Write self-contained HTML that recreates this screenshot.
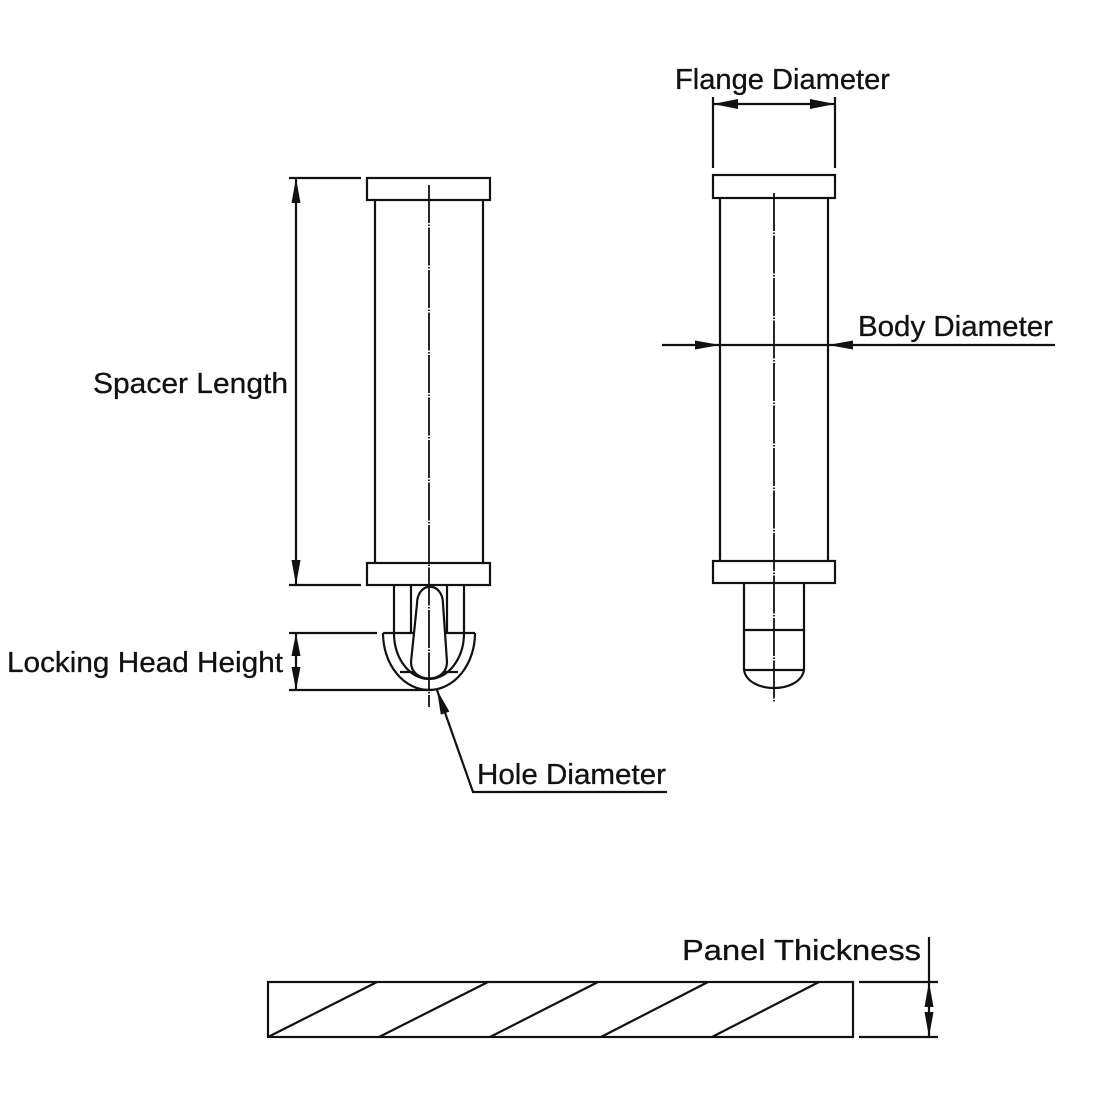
<!DOCTYPE html>
<html>
<head>
<meta charset="utf-8">
<style>
  html, body { margin:0; padding:0; background:#fff; }
  svg { display:block; }
  text { font-family: "Liberation Sans", Arial, sans-serif; font-size:29px; fill:#111; stroke:#111; stroke-width:0.3px; }
</style>
</head>
<body>
<svg width="1100" height="1100" viewBox="0 0 1100 1100" xmlns="http://www.w3.org/2000/svg">
  <rect width="1100" height="1100" fill="#fff"/>
  <g stroke="#111" stroke-width="2.2" fill="none" stroke-linecap="butt">
    <!-- ===== LEFT PART ===== -->
    <rect x="367" y="178" width="123" height="22" fill="#fff"/>
    <line x1="375" y1="200" x2="375" y2="563"/>
    <line x1="483" y1="200" x2="483" y2="563"/>
    <rect x="367" y="563" width="123" height="22" fill="#fff"/>
    <!-- legs -->
    <line x1="394" y1="585" x2="394" y2="633"/>
    <line x1="411" y1="585" x2="411" y2="633"/>
    <line x1="447" y1="585" x2="447" y2="633"/>
    <line x1="464" y1="585" x2="464" y2="633"/>
    <!-- locking head -->
    <line x1="383" y1="633" x2="475" y2="633"/>
    <path d="M383,633 A46,57 0 0 0 475,633"/>
    <path d="M394,633 A35,46 0 0 0 464,633"/>
    <line x1="400" y1="672" x2="458" y2="672"/>
    <path d="M417,604 C417,581 443,581 443,604 L447,662 C447,684 411,684 411,662 Z" fill="#fff"/>

    <!-- spacer length dimension -->
    <line x1="289" y1="178" x2="361" y2="178"/>
    <line x1="289" y1="585" x2="361" y2="585"/>
    <line x1="296" y1="178" x2="296" y2="585"/>
    <!-- locking head height -->
    <line x1="289" y1="633" x2="377" y2="633"/>
    <line x1="289" y1="690" x2="432" y2="690"/>
    <line x1="296" y1="633" x2="296" y2="690"/>
    <!-- hole diameter leader -->
    <polyline points="437,690 473,792 667,792"/>

    <!-- ===== RIGHT PART ===== -->
    <rect x="713" y="175" width="122" height="23" fill="#fff"/>
    <line x1="720" y1="198" x2="720" y2="561"/>
    <line x1="828" y1="198" x2="828" y2="561"/>
    <rect x="713" y="561" width="122" height="22" fill="#fff"/>
    <line x1="744" y1="583" x2="744" y2="670"/>
    <line x1="804" y1="583" x2="804" y2="670"/>
    <line x1="744" y1="630" x2="804" y2="630"/>
    <line x1="744" y1="670" x2="804" y2="670"/>
    <path d="M744,670 C748,694 800,694 804,670"/>
    <!-- flange diameter -->
    <line x1="713" y1="97" x2="713" y2="168"/>
    <line x1="835" y1="97" x2="835" y2="168"/>
    <line x1="713" y1="104" x2="835" y2="104"/>
    <!-- body diameter -->
    <line x1="662" y1="345" x2="1055" y2="345"/>

    <!-- ===== PANEL ===== -->
    <rect x="268" y="982" width="585" height="55"/>
    <line x1="268" y1="1037" x2="377" y2="982"/>
    <line x1="379" y1="1037" x2="488" y2="982"/>
    <line x1="490" y1="1037" x2="598" y2="982"/>
    <line x1="601" y1="1037" x2="708" y2="982"/>
    <line x1="712" y1="1037" x2="819" y2="982"/>
    <line x1="859" y1="982" x2="938" y2="982"/>
    <line x1="859" y1="1037" x2="938" y2="1037"/>
    <line x1="929" y1="937" x2="929" y2="1037"/>
  </g>

  <!-- center lines -->
  <g stroke="#111" stroke-width="1.8" stroke-dasharray="38 1.5 1.5 1.5">
    <line x1="429" y1="185" x2="429" y2="707"/>
    <line x1="774" y1="193" x2="774" y2="702"/>
  </g>

  <!-- arrowheads -->
  <g fill="#111" stroke="none">
    <polygon points="296,178 291.5,203 300.5,203"/>
    <polygon points="296,585 291.5,560 300.5,560"/>
    <polygon points="296,633 291.5,656 300.5,656"/>
    <polygon points="296,690 291.5,667 300.5,667"/>
    <polygon points="437,690 440.8,714.6 449.4,711.6"/>
    <polygon points="713,104 738,99 738,109"/>
    <polygon points="835,104 810,99 810,109"/>
    <polygon points="720,345 695,340.5 695,349.5"/>
    <polygon points="828,345 853,340.5 853,349.5"/>
    <polygon points="929,982 924.5,1007 933.5,1007"/>
    <polygon points="929,1037 924.5,1012 933.5,1012"/>
  </g>

  <!-- labels -->
  <text x="675" y="89" textLength="215" lengthAdjust="spacingAndGlyphs">Flange Diameter</text>
  <text x="858" y="336" textLength="195" lengthAdjust="spacingAndGlyphs">Body Diameter</text>
  <text x="93" y="393" textLength="195" lengthAdjust="spacingAndGlyphs">Spacer Length</text>
  <text x="7" y="672" textLength="276" lengthAdjust="spacingAndGlyphs">Locking Head Height</text>
  <text x="477" y="784" textLength="189" lengthAdjust="spacingAndGlyphs">Hole Diameter</text>
  <text x="682" y="960" textLength="239" lengthAdjust="spacingAndGlyphs">Panel Thickness</text>
</svg>
</body>
</html>
